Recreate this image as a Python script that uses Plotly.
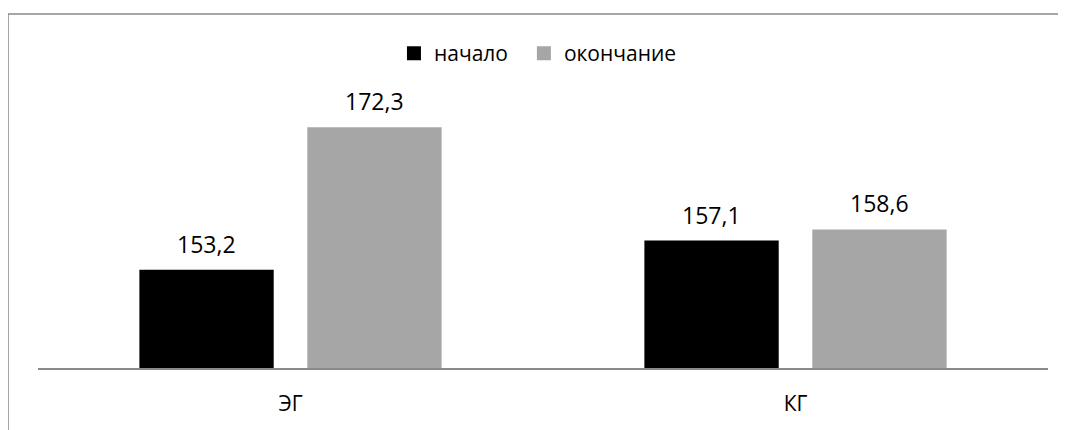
import plotly.graph_objects as go

categories = ["ЭГ", "КГ"]
series_names = ["начало", "окончание"]
start_values = [153.2, 157.1]
end_values = [172.3, 158.6]
colors = ["#000000", "#a6a6a6"]

FONT = "Open Sans"
FS = 23
FS_SMALL = 21

fig = go.Figure()
for k, (name, vals, col) in enumerate(zip(series_names, [start_values, end_values], colors)):
    fig.add_trace(go.Bar(
        x=categories, y=vals, name=name, showlegend=False,
        marker=dict(color=col, line=dict(width=0)),
    ))
    # legend entry with a larger square swatch
    label = name + ("\u00a0\u00a0" if k == 0 else "")
    fig.add_trace(go.Scatter(
        x=[None], y=[None], name=label, mode="markers",
        marker=dict(symbol="square", size=14, color=col),
    ))

# value labels above bars
for i, vals in enumerate([start_values, end_values]):
    for c, v in zip(categories, vals):
        fig.add_annotation(
            x=c, y=v, text=f"{v:.1f}".replace(".", ","),
            showarrow=False, yanchor="bottom", yshift=8,
            xshift=(-1 if i == 0 else 1) * 84,
            font=dict(family=FONT, size=FS, color="#000000"),
        )

# page body adds an 8px offset, so the figure is laid out 8px up/left
fig.update_layout(
    width=1066, height=430,
    margin=dict(l=30, r=26, t=62, b=70),
    paper_bgcolor="white", plot_bgcolor="white",
    barmode="group", bargap=0.335, bargroupgap=0.2,
    separators=", ",
    showlegend=True,
    legend=dict(orientation="h", x=0.495, xanchor="center", y=1.055, yanchor="middle",
                font=dict(family=FONT, size=FS_SMALL, color="#000000"),
                itemwidth=30, tracegroupgap=0, bgcolor="rgba(0,0,0,0)"),
    font=dict(family=FONT, size=FS, color="#000000"),
    xaxis=dict(showline=True, linecolor="#898989", linewidth=1.5, ticks="",
               tickfont=dict(family=FONT, size=FS_SMALL, color="#000000"),
               ticklabelstandoff=16, showgrid=False, zeroline=False, fixedrange=True),
    yaxis=dict(range=[140, 180], visible=False, showgrid=False, zeroline=False),
    shapes=[dict(type="rect", xref="paper", yref="paper",
                 x0=-0.0297, x1=1.04, y0=-0.3, y1=1.188,
                 line=dict(color="#898989", width=1.5), fillcolor="rgba(0,0,0,0)",
                 layer="below")],
)

fig.write_html("out.html")
